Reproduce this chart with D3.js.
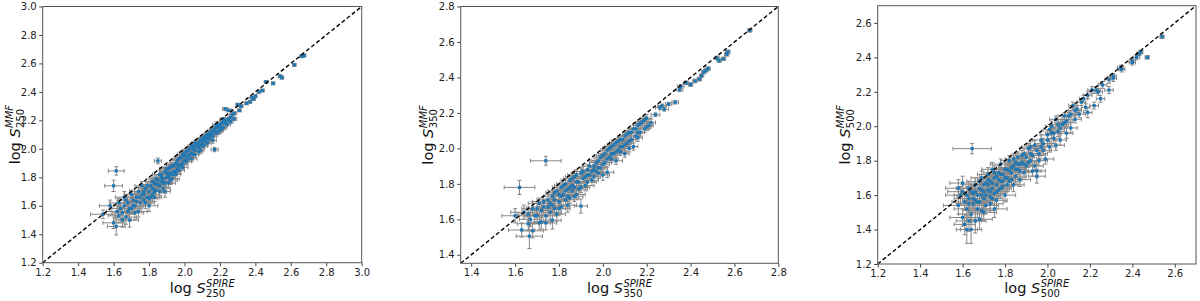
<!DOCTYPE html>
<html>
<head>
<meta charset="utf-8">
<script src="https://cdn.jsdelivr.net/npm/d3@7"></script>
<style>
  body { margin: 0; background: #fff; }
  svg { font-family: "DejaVu Sans", sans-serif; }
</style>
</head>
<body>
<svg id="chart" width="1200" height="301"></svg>
<script>
// [log S_SPIRE, log S_MMF, xerr, yerr]
const p250 = [
  [1.54,1.54,0.07,0.03],[1.60,1.48,0.06,0.04],[1.615,1.455,0.05,0.06],[1.615,1.845,0.045,0.03],[1.60,1.74,0.05,0.04],
  [1.62,1.56,0.06,0.04],[1.64,1.58,0.05,0.04],[1.65,1.50,0.05,0.05],[1.66,1.60,0.06,0.04],[1.67,1.52,0.06,0.05],
  [1.68,1.62,0.05,0.04],[1.69,1.50,0.05,0.05],[1.70,1.58,0.06,0.04],[1.71,1.64,0.05,0.04],[1.72,1.60,0.05,0.04],
  [1.73,1.66,0.05,0.03],[1.74,1.56,0.05,0.04],[1.75,1.62,0.06,0.04],[1.63,1.62,0.05,0.03],[1.58,1.60,0.06,0.04],
  [1.66,1.66,0.05,0.04],[1.68,1.56,0.05,0.04],[1.70,1.68,0.04,0.03],[1.72,1.55,0.05,0.05],[1.76,1.68,0.05,0.03],
  [1.77,1.64,0.05,0.04],[1.78,1.72,0.04,0.03],[1.79,1.66,0.05,0.03],[1.80,1.70,0.04,0.03],[1.80,1.60,0.05,0.04],
  [1.81,1.74,0.04,0.03],[1.82,1.68,0.04,0.03],[1.83,1.76,0.04,0.03],[1.84,1.71,0.04,0.03],[1.85,1.915,0.02,0.02],
  [1.85,1.78,0.04,0.03],[1.86,1.74,0.04,0.03],[1.87,1.80,0.04,0.03],[1.88,1.76,0.04,0.03],[1.89,1.70,0.03,0.04],
  [1.89,1.84,0.03,0.03],[1.90,1.80,0.04,0.03],[1.91,1.86,0.03,0.03],[1.92,1.78,0.04,0.03],[1.93,1.88,0.03,0.02],
  [1.94,1.84,0.03,0.03],[1.95,1.90,0.03,0.02],[1.96,1.86,0.03,0.03],[1.97,1.93,0.03,0.02],[1.98,1.89,0.03,0.02],
  [1.99,1.96,0.03,0.02],[2.00,1.92,0.03,0.02],[2.01,1.98,0.03,0.02],[2.02,1.95,0.03,0.02],[2.03,2.00,0.02,0.02],
  [2.04,1.97,0.02,0.02],[2.05,2.02,0.02,0.02],[2.06,1.99,0.02,0.02],[2.07,2.04,0.02,0.02],[2.08,2.01,0.02,0.02],
  [2.09,2.06,0.02,0.02],[2.10,2.03,0.02,0.02],[2.11,2.08,0.02,0.02],[2.12,2.05,0.02,0.02],[2.13,2.10,0.02,0.02],
  [2.14,2.07,0.02,0.02],[2.15,2.12,0.02,0.02],[2.16,2.09,0.02,0.02],[2.17,1.995,0.02,0.015],[2.17,2.14,0.02,0.02],
  [2.18,2.11,0.02,0.02],[2.19,2.16,0.02,0.01],[2.20,2.13,0.02,0.02],[2.21,2.18,0.02,0.01],[2.22,2.15,0.02,0.01],
  [2.23,2.28,0.015,0.01],[2.24,2.20,0.02,0.01],[2.25,2.27,0.015,0.01],[2.26,2.22,0.015,0.01],[2.27,2.24,0.015,0.01],
  [2.28,2.21,0.015,0.01],[2.30,2.31,0.01,0.01],[2.31,2.27,0.01,0.01],[2.32,2.30,0.01,0.01],[2.37,2.33,0.01,0.01],
  [2.38,2.36,0.01,0.01],[2.40,2.37,0.01,0.01],[2.42,2.40,0.01,0.01],[2.44,2.41,0.01,0.01],[2.46,2.47,0.01,0.01],
  [2.50,2.46,0.01,0.01],[2.54,2.51,0.01,0.01],[2.55,2.50,0.01,0.01],[2.62,2.59,0.01,0.01],[2.66,2.65,0.01,0.01],
  [2.675,2.655,0.01,0.01],[1.83,1.66,0.04,0.03],[1.86,1.82,0.04,0.03],[1.88,1.72,0.04,0.03],[1.91,1.76,0.04,0.03],
  [1.93,1.82,0.03,0.03],[1.95,1.84,0.03,0.03],[1.97,1.88,0.03,0.02],[1.99,1.90,0.03,0.02],[2.00,1.97,0.03,0.02],
  [2.02,1.93,0.03,0.02],[2.04,2.02,0.02,0.02],[2.06,2.04,0.02,0.02],[2.08,1.98,0.02,0.02],[2.10,2.07,0.02,0.02],
  [2.12,2.09,0.02,0.02],[2.14,2.11,0.02,0.02],[2.16,2.13,0.02,0.02],[2.18,2.15,0.02,0.02],[2.20,2.17,0.02,0.01],
  [2.22,2.19,0.02,0.01],[1.76,1.74,0.04,0.03],[1.74,1.70,0.05,0.03],[1.78,1.62,0.05,0.04],[1.81,1.66,0.05,0.04],
  [1.84,1.79,0.04,0.03],[1.87,1.77,0.04,0.03],[1.90,1.86,0.04,0.03],[1.92,1.83,0.04,0.03],[1.96,1.92,0.03,0.02],
  [2.05,1.96,0.03,0.02],[2.09,2.02,0.02,0.02],[2.13,2.04,0.02,0.02],[2.19,2.12,0.02,0.02],[2.23,2.18,0.02,0.01],
  [2.26,2.19,0.015,0.01],[2.28,2.25,0.015,0.01],[2.35,2.32,0.01,0.01],[2.39,2.35,0.01,0.01],
  [1.75,1.66,0.05,0.04],[1.77,1.70,0.05,0.03],[1.79,1.74,0.04,0.03],[1.80,1.65,0.05,0.04],[1.82,1.77,0.04,0.03],
  [1.82,1.72,0.04,0.03],[1.83,1.70,0.04,0.03],[1.85,1.75,0.04,0.03],[1.86,1.70,0.04,0.03],[1.87,1.82,0.04,0.03],
  [1.88,1.79,0.04,0.03],[1.89,1.76,0.04,0.03],[1.90,1.83,0.04,0.03],[1.91,1.80,0.04,0.03],[1.92,1.87,0.03,0.03],
  [1.93,1.79,0.04,0.03],[1.94,1.88,0.03,0.02],[1.95,1.82,0.03,0.03],[1.96,1.89,0.03,0.02],[1.97,1.85,0.03,0.03],
  [1.98,1.94,0.03,0.02],[1.99,1.87,0.03,0.02],[2.00,1.95,0.03,0.02],[2.01,1.91,0.03,0.02],[2.02,1.99,0.03,0.02],
  [2.03,1.96,0.02,0.02],[2.04,1.93,0.03,0.02],[2.05,2.00,0.02,0.02],[2.06,1.96,0.02,0.02],[2.07,2.02,0.02,0.02],
  [2.08,2.04,0.02,0.02],[2.09,1.99,0.02,0.02],[2.10,2.05,0.02,0.02],[2.11,2.02,0.02,0.02],[2.12,2.07,0.02,0.02],
  [2.13,2.07,0.02,0.02],[2.14,2.09,0.02,0.02],[2.15,2.10,0.02,0.02],[2.16,2.06,0.02,0.02],[2.17,2.12,0.02,0.02],
  [2.18,2.17,0.02,0.02],[2.20,2.15,0.02,0.02],[2.21,2.14,0.02,0.02],[2.22,2.21,0.02,0.01],[2.24,2.17,0.02,0.01],
  [2.25,2.21,0.02,0.01],[1.71,1.60,0.05,0.04],[1.73,1.63,0.05,0.04],[1.69,1.58,0.06,0.04],[1.65,1.55,0.06,0.04],
  [1.67,1.64,0.05,0.04],[1.63,1.53,0.06,0.05],[1.77,1.68,0.05,0.04],[1.84,1.75,0.04,0.03],[1.91,1.82,0.04,0.03]
];

const p350 = [
  [1.62,1.78,0.07,0.04],[1.74,1.93,0.07,0.025],[1.63,1.54,0.06,0.04],[1.66,1.575,0.05,0.04],[1.665,1.505,0.06,0.07],
  [1.68,1.535,0.05,0.04],[1.60,1.62,0.06,0.04],[1.64,1.64,0.06,0.04],[1.67,1.60,0.05,0.04],[1.69,1.62,0.05,0.04],
  [1.70,1.66,0.05,0.03],[1.71,1.58,0.05,0.04],[1.72,1.65,0.05,0.04],[1.72,1.585,0.05,0.04],[1.73,1.70,0.05,0.03],
  [1.74,1.62,0.05,0.04],[1.75,1.67,0.05,0.03],[1.76,1.69,0.05,0.03],[1.77,1.595,0.04,0.05],[1.77,1.73,0.04,0.03],
  [1.78,1.66,0.05,0.04],[1.79,1.63,0.04,0.04],[1.79,1.76,0.04,0.03],[1.80,1.70,0.04,0.03],[1.81,1.78,0.04,0.03],
  [1.81,1.67,0.04,0.04],[1.82,1.74,0.04,0.03],[1.83,1.80,0.04,0.03],[1.83,1.71,0.04,0.03],[1.84,1.77,0.04,0.03],
  [1.85,1.82,0.04,0.03],[1.85,1.72,0.04,0.03],[1.86,1.79,0.04,0.03],[1.87,1.73,0.04,0.03],[1.87,1.84,0.04,0.03],
  [1.88,1.81,0.04,0.03],[1.89,1.77,0.04,0.03],[1.90,1.675,0.03,0.04],[1.90,1.86,0.04,0.03],[1.91,1.83,0.04,0.03],
  [1.92,1.79,0.04,0.03],[1.93,1.88,0.03,0.03],[1.94,1.85,0.03,0.03],[1.95,1.82,0.03,0.03],[1.96,1.90,0.03,0.03],
  [1.97,1.87,0.03,0.03],[1.98,1.86,0.03,0.03],[1.98,1.93,0.03,0.02],[1.99,1.89,0.03,0.03],[2.00,1.85,0.03,0.03],
  [2.00,1.96,0.03,0.02],[2.01,1.92,0.03,0.02],[2.02,1.865,0.03,0.03],[2.02,1.99,0.03,0.02],[2.03,1.95,0.03,0.02],
  [2.04,2.01,0.03,0.02],[2.05,1.97,0.03,0.02],[2.06,1.93,0.03,0.02],[2.06,2.03,0.03,0.02],[2.07,1.99,0.03,0.02],
  [2.08,2.05,0.02,0.02],[2.09,2.01,0.02,0.02],[2.10,1.97,0.02,0.02],[2.10,2.07,0.02,0.02],[2.11,2.03,0.02,0.02],
  [2.12,2.09,0.02,0.02],[2.13,2.05,0.02,0.02],[2.14,2.01,0.02,0.02],[2.14,2.11,0.02,0.02],[2.15,2.07,0.02,0.02],
  [2.16,2.13,0.02,0.02],[2.17,2.09,0.02,0.02],[2.18,2.15,0.02,0.02],[2.19,2.11,0.02,0.02],[2.20,2.17,0.02,0.02],
  [2.21,2.13,0.02,0.02],[2.22,2.145,0.02,0.02],[2.24,2.19,0.02,0.01],[2.26,2.23,0.02,0.01],[2.27,2.24,0.02,0.01],
  [2.28,2.22,0.02,0.01],[2.30,2.25,0.015,0.01],[2.33,2.26,0.015,0.01],[2.35,2.33,0.015,0.01],[2.355,2.35,0.015,0.01],
  [2.38,2.37,0.01,0.01],[2.40,2.36,0.01,0.01],[2.42,2.38,0.01,0.01],[2.44,2.39,0.01,0.01],[2.45,2.41,0.01,0.01],
  [2.46,2.43,0.01,0.01],[2.47,2.44,0.01,0.01],[2.48,2.45,0.01,0.01],[2.52,2.51,0.01,0.01],[2.53,2.495,0.01,0.01],
  [2.55,2.505,0.01,0.01],[2.565,2.53,0.01,0.01],[2.57,2.545,0.01,0.01],[2.67,2.665,0.01,0.01],[1.84,1.68,0.04,0.04],
  [1.88,1.74,0.04,0.03],[1.93,1.81,0.04,0.03],[1.96,1.84,0.03,0.03],[2.04,1.94,0.03,0.02],[2.08,1.98,0.03,0.02],
  [2.12,2.04,0.02,0.02],[2.16,2.06,0.02,0.02],[1.76,1.64,0.05,0.04],[1.80,1.74,0.04,0.03],[1.86,1.76,0.04,0.03],
  [1.75,1.71,0.05,0.03],[1.77,1.68,0.05,0.04],[1.78,1.75,0.04,0.03],[1.80,1.66,0.05,0.04],[1.81,1.73,0.04,0.03],
  [1.82,1.79,0.04,0.03],[1.83,1.76,0.04,0.03],[1.84,1.73,0.04,0.03],[1.85,1.78,0.04,0.03],[1.86,1.83,0.04,0.03],
  [1.87,1.78,0.04,0.03],[1.88,1.85,0.04,0.03],[1.89,1.81,0.04,0.03],[1.90,1.78,0.04,0.03],[1.91,1.87,0.04,0.03],
  [1.92,1.84,0.04,0.03],[1.93,1.85,0.03,0.03],[1.94,1.90,0.03,0.03],[1.95,1.87,0.03,0.03],[1.96,1.88,0.03,0.03],
  [1.97,1.92,0.03,0.02],[1.98,1.89,0.03,0.03],[1.99,1.95,0.03,0.02],[2.00,1.91,0.03,0.02],[2.01,1.97,0.03,0.02],
  [2.02,1.94,0.03,0.02],[2.03,2.00,0.03,0.02],[2.04,1.97,0.03,0.02],[2.05,2.02,0.03,0.02],[2.06,1.98,0.03,0.02],
  [2.07,2.04,0.03,0.02],[2.08,2.01,0.02,0.02],[2.09,2.05,0.02,0.02],[2.10,2.02,0.02,0.02],[2.11,2.08,0.02,0.02],
  [2.12,2.00,0.02,0.02],[2.13,2.09,0.02,0.02],[2.15,2.11,0.02,0.02],[2.16,2.09,0.02,0.02],[2.17,2.14,0.02,0.02],
  [2.19,2.16,0.02,0.02],[2.20,2.12,0.02,0.02],[1.70,1.62,0.05,0.04],[1.73,1.67,0.05,0.04],[1.66,1.63,0.05,0.04],
  [1.68,1.66,0.05,0.04],[1.71,1.69,0.05,0.03],[1.74,1.58,0.05,0.04],[1.78,1.71,0.04,0.03]
];

const p500 = [
  [1.645,1.87,0.09,0.03],[1.60,1.67,0.06,0.04],[1.60,1.47,0.06,0.05],[1.61,1.43,0.05,0.06],[1.62,1.40,0.05,0.08],
  [1.64,1.40,0.05,0.08],[1.66,1.45,0.05,0.07],[1.68,1.46,0.06,0.06],[1.60,1.62,0.07,0.04],[1.61,1.56,0.06,0.05],
  [1.62,1.52,0.06,0.05],[1.63,1.64,0.06,0.04],[1.63,1.58,0.07,0.05],[1.64,1.49,0.06,0.05],[1.65,1.61,0.06,0.04],
  [1.65,1.55,0.06,0.05],[1.66,1.66,0.06,0.04],[1.67,1.52,0.06,0.05],[1.67,1.60,0.06,0.04],[1.68,1.64,0.06,0.04],
  [1.68,1.56,0.06,0.05],[1.69,1.70,0.05,0.04],[1.69,1.51,0.06,0.05],[1.70,1.62,0.06,0.04],[1.70,1.58,0.06,0.05],
  [1.71,1.67,0.05,0.04],[1.71,1.54,0.06,0.05],[1.72,1.63,0.05,0.04],[1.72,1.72,0.05,0.04],[1.73,1.59,0.05,0.04],
  [1.73,1.68,0.05,0.04],[1.74,1.64,0.05,0.04],[1.74,1.75,0.05,0.04],[1.75,1.61,0.05,0.04],[1.75,1.70,0.05,0.04],
  [1.76,1.66,0.05,0.04],[1.76,1.57,0.05,0.05],[1.77,1.73,0.05,0.04],[1.77,1.63,0.05,0.04],[1.78,1.68,0.05,0.04],
  [1.78,1.78,0.05,0.03],[1.79,1.65,0.05,0.04],[1.79,1.72,0.05,0.04],[1.80,1.70,0.05,0.04],[1.80,1.60,0.05,0.04],
  [1.81,1.75,0.05,0.03],[1.82,1.68,0.05,0.04],[1.82,1.80,0.04,0.03],[1.83,1.73,0.05,0.04],[1.84,1.66,0.05,0.04],
  [1.84,1.77,0.04,0.03],[1.85,1.71,0.05,0.04],[1.86,1.82,0.04,0.03],[1.86,1.75,0.04,0.03],[1.87,1.69,0.05,0.04],
  [1.88,1.79,0.04,0.03],[1.89,1.84,0.04,0.03],[1.89,1.73,0.04,0.03],[1.90,1.77,0.04,0.03],[1.91,1.87,0.04,0.03],
  [1.92,1.80,0.04,0.03],[1.93,1.74,0.04,0.03],[1.94,1.77,0.04,0.03],[1.95,1.74,0.04,0.04],[1.95,1.71,0.04,0.04],
  [1.94,1.89,0.04,0.03],[1.96,1.84,0.04,0.03],[1.97,1.92,0.04,0.03],[1.98,1.86,0.04,0.03],[1.99,1.81,0.04,0.03],
  [2.00,1.95,0.03,0.03],[2.01,1.88,0.03,0.03],[2.02,2.00,0.03,0.03],[2.03,1.93,0.03,0.03],[2.04,1.89,0.04,0.03],
  [2.04,2.04,0.03,0.02],[2.05,1.97,0.03,0.03],[2.06,1.92,0.03,0.03],[2.07,2.01,0.03,0.03],[2.08,2.02,0.03,0.02],
  [2.09,1.96,0.03,0.03],[2.10,2.06,0.03,0.02],[2.11,1.99,0.03,0.03],[2.12,2.12,0.02,0.02],[2.13,2.04,0.03,0.02],
  [2.14,2.10,0.02,0.02],[2.15,2.07,0.03,0.02],[2.16,2.14,0.02,0.02],[2.17,2.16,0.02,0.02],[2.18,2.11,0.02,0.02],
  [2.19,2.08,0.02,0.03],[2.19,2.18,0.02,0.02],[2.21,2.21,0.02,0.02],[2.22,2.12,0.02,0.02],[2.23,2.21,0.02,0.02],
  [2.24,2.20,0.02,0.02],[2.25,2.16,0.02,0.02],[2.26,2.24,0.02,0.02],[2.29,2.21,0.02,0.02],[2.29,2.27,0.02,0.02],
  [2.31,2.28,0.015,0.02],[2.31,2.29,0.015,0.015],[2.35,2.33,0.015,0.015],[2.345,2.34,0.015,0.015],[2.40,2.37,0.015,0.015],
  [2.40,2.38,0.015,0.015],[2.42,2.40,0.015,0.015],[2.43,2.42,0.01,0.01],[2.44,2.43,0.01,0.01],[2.47,2.40,0.01,0.01],
  [2.54,2.52,0.01,0.01],[1.66,1.57,0.06,0.05],[1.69,1.60,0.06,0.04],[1.72,1.66,0.05,0.04],[1.74,1.58,0.05,0.04],
  [1.76,1.71,0.05,0.04],[1.78,1.64,0.05,0.04],[1.81,1.66,0.05,0.04],[1.83,1.76,0.05,0.04],[1.85,1.79,0.04,0.03],
  [1.87,1.78,0.04,0.03],[1.92,1.84,0.04,0.03],[1.97,1.88,0.04,0.03],[2.02,1.96,0.03,0.03],
  [1.62,1.60,0.06,0.05],[1.63,1.55,0.06,0.05],[1.64,1.62,0.06,0.04],[1.65,1.58,0.06,0.05],[1.66,1.62,0.06,0.04],
  [1.67,1.56,0.06,0.05],[1.68,1.68,0.06,0.04],[1.69,1.63,0.06,0.04],[1.70,1.66,0.06,0.04],[1.71,1.60,0.06,0.04],
  [1.72,1.69,0.05,0.04],[1.73,1.62,0.05,0.04],[1.74,1.67,0.05,0.04],[1.75,1.73,0.05,0.04],[1.76,1.62,0.05,0.04],
  [1.77,1.69,0.05,0.04],[1.78,1.72,0.05,0.04],[1.79,1.68,0.05,0.04],[1.80,1.75,0.05,0.04],[1.81,1.70,0.05,0.04],
  [1.82,1.74,0.05,0.04],[1.83,1.69,0.05,0.04],[1.84,1.81,0.04,0.03],[1.85,1.75,0.05,0.04],[1.86,1.78,0.04,0.03],
  [1.87,1.74,0.04,0.04],[1.88,1.83,0.04,0.03],[1.89,1.78,0.04,0.03],[1.90,1.82,0.04,0.03],[1.91,1.79,0.04,0.03],
  [1.92,1.88,0.04,0.03],[1.93,1.83,0.04,0.03],[1.95,1.86,0.04,0.03],[1.96,1.80,0.04,0.03],[1.98,1.90,0.04,0.03],
  [2.00,1.92,0.03,0.03],[2.01,1.98,0.03,0.03],[2.03,1.96,0.03,0.03],[2.05,2.01,0.03,0.03],[2.06,1.99,0.03,0.03],
  [2.08,2.06,0.03,0.02],[2.09,2.03,0.03,0.03],[2.11,2.07,0.03,0.02],[2.13,2.09,0.03,0.02],[1.58,1.54,0.07,0.05],
  [1.59,1.60,0.07,0.05],[1.58,1.64,0.06,0.05],[1.70,1.50,0.06,0.05],[1.73,1.55,0.06,0.05],[1.75,1.52,0.06,0.05],
  [1.63,1.45,0.06,0.06]
];

const bands = ['250', '350', '500'];
const domains = [[1.2, 3.0], [1.352, 2.8], [1.2, 2.7]];
const tickValues = [
  [1.2, 1.4, 1.6, 1.8, 2.0, 2.2, 2.4, 2.6, 2.8, 3.0],
  [1.4, 1.6, 1.8, 2.0, 2.2, 2.4, 2.6, 2.8],
  [1.2, 1.4, 1.6, 1.8, 2.0, 2.2, 2.4, 2.6]
];
const datasets = [p250, p350, p500];

// panel boxes in page pixels
const boxes = [
  {left: 42.7, right: 361.7, top: 6.5, bottom: 262.7, ylab: 19.5},
  {left: 460.7, right: 778.3, top: 6.5, bottom: 263.3, ylab: 433},
  {left: 877.7, right: 1196, top: 5.7, bottom: 264, ylab: 850}
];

const svg = d3.select('#chart');

// "log S" with stacked sub/superscript, centred at (0,0) of g
function mathLabel(g, sub, sup) {
  const t = g.append('text').attr('font-size', 14.5).attr('fill', '#111');
  t.append('tspan').text('log ');
  t.append('tspan').attr('font-style', 'italic').text('S');
  const w = t.node().getComputedTextLength();
  const s1 = g.append('text').attr('font-size', 10).attr('fill', '#111')
      .attr('x', w + 0.5).attr('y', 4).text(sub);
  const s2 = g.append('text').attr('font-size', 10).attr('fill', '#111')
      .attr('font-style', 'italic').attr('x', w + 0.5).attr('y', -6.5).text(sup);
  const total = w + 0.5 + Math.max(s1.node().getComputedTextLength(), s2.node().getComputedTextLength());
  g.selectAll('text').attr('transform', 'translate(' + (-total / 2) + ',0)');
}

datasets.forEach(function(data, i) {
  const b = boxes[i];
  const x = d3.scaleLinear().domain(domains[i]).range([b.left, b.right]);
  const y = d3.scaleLinear().domain(domains[i]).range([b.bottom, b.top]);

  const g = svg.append('g');

  const clipId = 'clip' + i;
  g.append('clipPath').attr('id', clipId)
    .append('rect')
      .attr('x', b.left).attr('y', b.top)
      .attr('width', b.right - b.left).attr('height', b.bottom - b.top);

  const plot = g.append('g').attr('clip-path', 'url(#' + clipId + ')');

  // error bars
  const cap = 2;
  const eb = plot.append('g')
      .attr('stroke', '#878787')
      .attr('stroke-width', 1)
      .attr('fill', 'none');

  const bars = eb.selectAll('g').data(data).enter().append('g');
  bars.append('line')
      .attr('x1', function(d) { return x(d[0] - d[2]); })
      .attr('x2', function(d) { return x(d[0] + d[2]); })
      .attr('y1', function(d) { return y(d[1]); })
      .attr('y2', function(d) { return y(d[1]); });
  bars.append('line')
      .attr('x1', function(d) { return x(d[0]); })
      .attr('x2', function(d) { return x(d[0]); })
      .attr('y1', function(d) { return y(d[1] - d[3]); })
      .attr('y2', function(d) { return y(d[1] + d[3]); });
  // caps
  [-1, 1].forEach(function(s) {
    bars.append('line')
        .attr('x1', function(d) { return x(d[0] + s * d[2]); })
        .attr('x2', function(d) { return x(d[0] + s * d[2]); })
        .attr('y1', function(d) { return y(d[1]) - cap; })
        .attr('y2', function(d) { return y(d[1]) + cap; });
    bars.append('line')
        .attr('x1', function(d) { return x(d[0]) - cap; })
        .attr('x2', function(d) { return x(d[0]) + cap; })
        .attr('y1', function(d) { return y(d[1] + s * d[3]); })
        .attr('y2', function(d) { return y(d[1] + s * d[3]); });
  });

  // markers
  plot.append('g').selectAll('rect')
    .data(data).enter().append('rect')
      .attr('x', function(d) { return x(d[0]) - 1.6; })
      .attr('y', function(d) { return y(d[1]) - 1.6; })
      .attr('width', 3.2).attr('height', 3.2)
      .attr('fill', '#1f77b4');

  // one-to-one line
  plot.append('line')
      .attr('x1', x(domains[i][0])).attr('y1', y(domains[i][0]))
      .attr('x2', x(domains[i][1])).attr('y2', y(domains[i][1]))
      .attr('stroke', '#000')
      .attr('stroke-width', 1.4)
      .attr('stroke-dasharray', '4,2.5');

  // axes
  const xAxis = d3.axisBottom(x).tickValues(tickValues[i]).tickFormat(d3.format('.1f'))
      .tickSize(3.5).tickPadding(2.5);
  const yAxis = d3.axisLeft(y).tickValues(tickValues[i]).tickFormat(d3.format('.1f'))
      .tickSize(3.5).tickPadding(2.5);

  const gx = g.append('g').attr('transform', 'translate(0,' + b.bottom + ')').call(xAxis);
  const gy = g.append('g').attr('transform', 'translate(' + b.left + ',0)').call(yAxis);
  [gx, gy].forEach(function(a) {
    a.select('.domain').remove();
    a.selectAll('line').attr('stroke', '#444');
    a.selectAll('text').attr('font-size', 10).attr('fill', '#222')
        .attr('font-family', '"DejaVu Sans", sans-serif');
  });

  // frame
  g.append('rect')
      .attr('x', b.left).attr('y', b.top)
      .attr('width', b.right - b.left).attr('height', b.bottom - b.top)
      .attr('fill', 'none').attr('stroke', '#555').attr('stroke-width', 1);

  // labels
  const cx = (b.left + b.right) / 2;
  const cy = (b.top + b.bottom) / 2;
  mathLabel(g.append('g').attr('transform', 'translate(' + cx + ',293)'), bands[i], 'SPIRE');
  mathLabel(g.append('g').attr('transform', 'translate(' + b.ylab + ',' + cy + ') rotate(-90)'), bands[i], 'MMF');
});
</script>
</body>
</html>
